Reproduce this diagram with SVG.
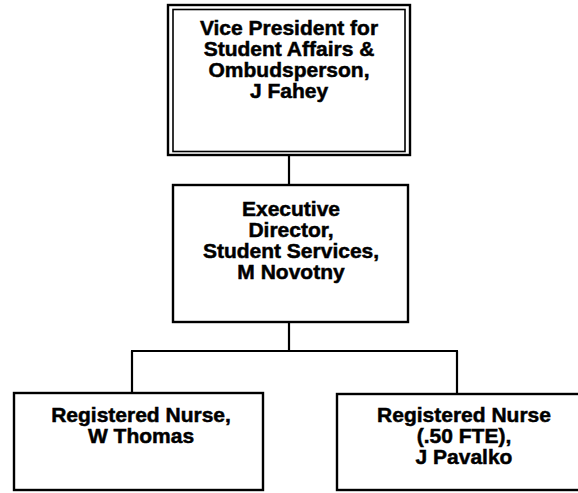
<svg xmlns="http://www.w3.org/2000/svg" width="578" height="493" viewBox="0 0 578 493">
<style>
.box{fill:#fff;stroke:#000;stroke-width:2.4}
.inner{fill:none;stroke:#000;stroke-width:1.6}
.t{font-family:"Liberation Sans",Arial,sans-serif;font-weight:bold;font-size:21px;fill:#000;stroke:#000;stroke-width:0.5;text-anchor:middle}
.c{fill:none;stroke:#000;stroke-width:2.2}
</style>
<rect width="578" height="493" fill="#fff"/>
<g id="connectors">
<line class="c" x1="289" y1="155" x2="289" y2="185"/>
<line class="c" x1="289" y1="322" x2="289" y2="351"/>
<line class="c" x1="131" y1="351" x2="458" y2="351"/>
<line class="c" x1="132" y1="351" x2="132" y2="393"/>
<line class="c" x1="457" y1="351" x2="457" y2="394"/>
</g>
<g id="vp">
<rect class="box" x="168" y="5" width="242" height="150"/>
<rect class="inner" x="173" y="9.5" width="232" height="142"/>
<text class="t" x="289" y="35">Vice President for</text>
<text class="t" x="289" y="56">Student Affairs &amp;</text>
<text class="t" x="289" y="77">Ombudsperson,</text>
<text class="t" x="289" y="98">J Fahey</text>
</g>
<g id="director">
<rect class="box" x="173" y="185" width="235" height="137"/>
<text class="t" x="291" y="216">Executive</text>
<text class="t" x="291" y="237">Director,</text>
<text class="t" x="291" y="258">Student Services,</text>
<text class="t" x="291" y="279">M Novotny</text>
</g>
<g id="nurse1">
<rect class="box" x="14" y="393" width="249" height="97"/>
<text class="t" x="141" y="422">Registered Nurse,</text>
<text class="t" x="141" y="443">W Thomas</text>
</g>
<g id="nurse2">
<rect class="box" x="337" y="394" width="260" height="96"/>
<text class="t" x="464" y="422">Registered Nurse</text>
<text class="t" x="464" y="443">(.50 FTE),</text>
<text class="t" x="464" y="464">J Pavalko</text>
</g>
</svg>
